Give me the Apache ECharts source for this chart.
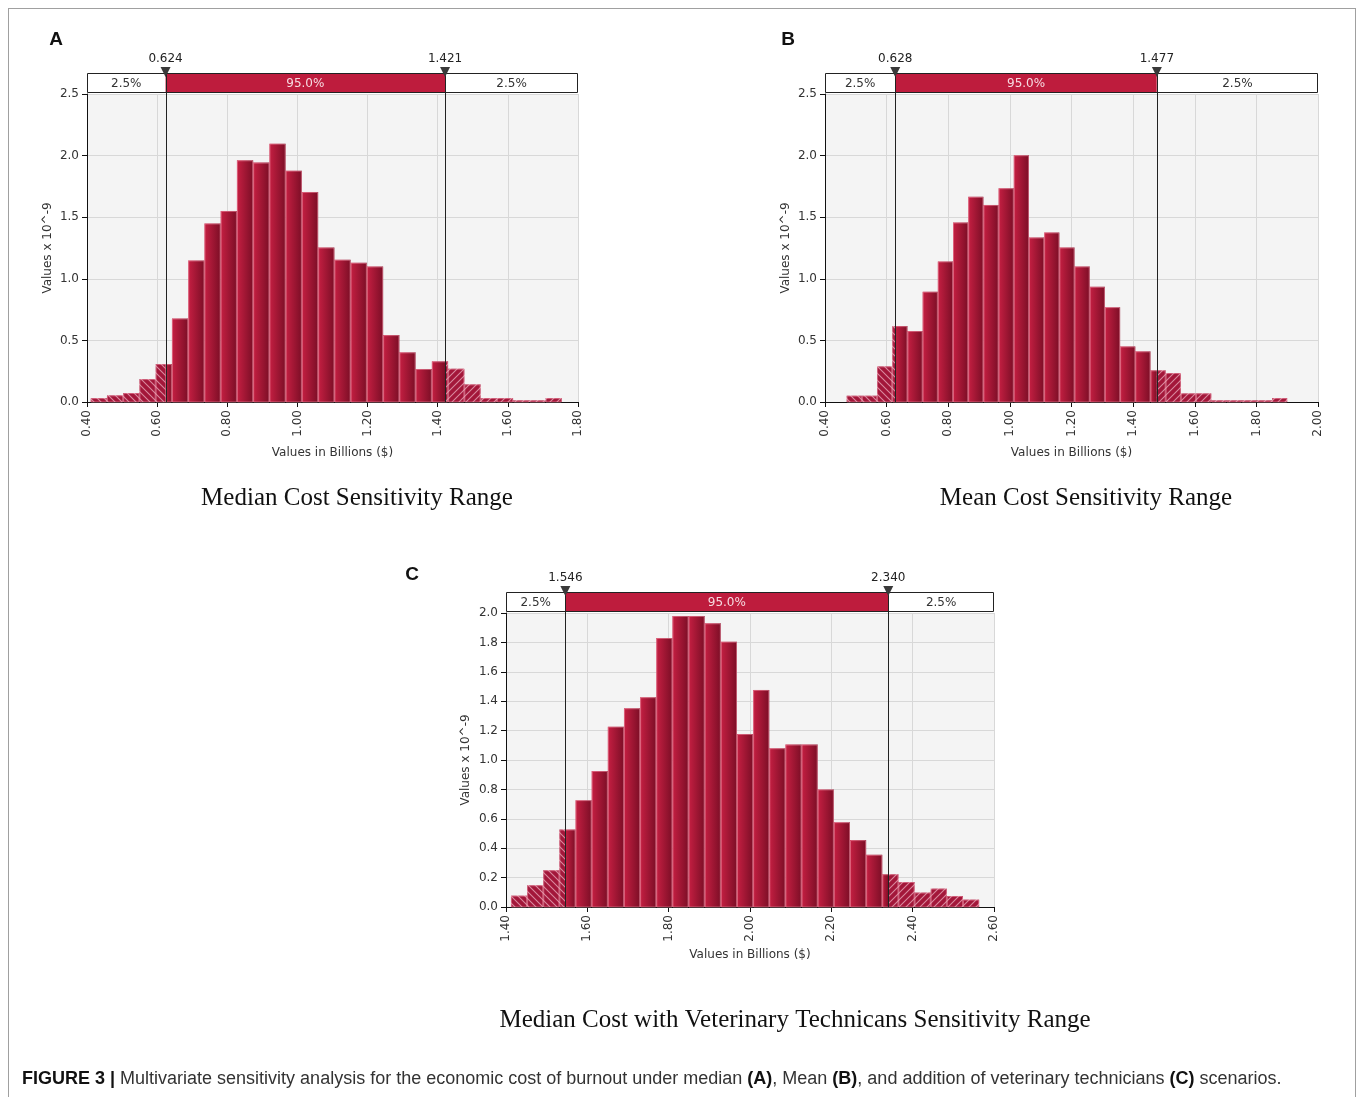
<!DOCTYPE html>
<html><head><meta charset="utf-8">
<script src="https://cdn.jsdelivr.net/npm/echarts@6/dist/echarts.min.js"></script>
<style>
html,body{margin:0;padding:0;background:#fff;}
#frame{position:absolute;left:8px;top:8px;width:1348px;height:1100px;border:1px solid #a0a0a0;border-bottom:none;box-sizing:border-box;}
#chart{position:absolute;left:0;top:0;width:1358px;height:1097px;}
</style></head><body>
<div id="frame"></div><div id="chart"></div>
<script>
// ---- data ----
const valuesA = [0.032,0.054,0.073,0.186,0.308,0.678,1.149,1.449,1.551,1.962,1.943,2.097,1.878,1.705,1.254,1.154,1.130,1.100,0.543,0.403,0.268,0.330,0.270,0.143,0.032,0.032,0.014,0.014,0.032];
const binStartA = 0.4106, binWidthA = 0.04632;
const percentilesA = [0.624, 1.421];
const bandPctA = ['2.5%', '95.0%', '2.5%'];
const xRangeA = [0.40, 1.80], yRangeA = [0, 2.5];

const valuesB = [0.051,0.051,0.289,0.616,0.576,0.895,1.141,1.457,1.665,1.600,1.735,2.003,1.335,1.376,1.254,1.100,0.935,0.770,0.451,0.411,0.257,0.235,0.070,0.070,0.014,0.014,0.014,0.014,0.032];
const binStartB = 0.4704, binWidthB = 0.0493;
const percentilesB = [0.628, 1.477];
const bandPctB = ['2.5%', '95.0%', '2.5%'];
const xRangeB = [0.40, 2.00], yRangeB = [0, 2.5];

const valuesC = [0.077,0.148,0.250,0.527,0.727,0.925,1.227,1.352,1.427,1.830,1.980,1.980,1.930,1.805,1.177,1.477,1.080,1.105,1.105,0.800,0.577,0.455,0.355,0.223,0.170,0.098,0.125,0.075,0.050];
const binStartC = 1.4122, binWidthC = 0.0397;
const percentilesC = [1.546, 2.340];
const bandPctC = ['2.5%', '95.0%', '2.5%'];
const xRangeC = [1.40, 2.60], yRangeC = [0, 2.0];

const xTickStep = 0.2;
const yTickStepAB = 0.5, yTickStepC = 0.2;
const yAxisName = 'Values x 10^-9';
const xAxisName = 'Values in Billions ($)';
const subtitles = ['Median Cost Sensitivity Range', 'Mean Cost Sensitivity Range', 'Median Cost with Veterinary Technicans Sensitivity Range'];
const panelLetters = ['A', 'B', 'C'];

// ---- styling helpers ----
const SANS = '"DejaVu Sans", Verdana, sans-serif';
function makePattern(dir) {
  const s = 7, c = document.createElement('canvas');
  c.width = s; c.height = s;
  const g = c.getContext('2d');
  g.fillStyle = '#a3173a'; g.fillRect(0, 0, s, s);
  g.strokeStyle = 'rgba(255,215,225,0.6)'; g.lineWidth = 1.1;
  g.beginPath();
  if (dir === 'L') {
    g.moveTo(0, 0); g.lineTo(s, s);
    g.moveTo(-1, s - 1); g.lineTo(1, s + 1);
    g.moveTo(s - 1, -1); g.lineTo(s + 1, 1);
  } else {
    g.moveTo(0, s); g.lineTo(s, 0);
    g.moveTo(-1, 1); g.lineTo(1, -1);
    g.moveTo(s - 1, s + 1); g.lineTo(s + 1, s - 1);
  }
  g.stroke();
  return { image: c, repeat: 'repeat' };
}
const patL = makePattern('L'), patR = makePattern('R');
function grad() {
  return new echarts.graphic.LinearGradient(0, 0, 1, 0, [
    { offset: 0, color: '#c51f42' }, { offset: 1, color: '#7c0e26' }]);
}

function barRender(lo, hi, width) {
  return function (params, api) {
    const x0 = api.value(0), v = api.value(1), x1 = x0 + width;
    const children = [];
    const segs = [[x0, Math.min(x1, lo), 'L'], [Math.max(x0, lo), Math.min(x1, hi), 'M'], [Math.max(x0, hi), x1, 'R']];
    segs.forEach(function (sg) {
      if (sg[1] <= sg[0]) return;
      const pa = api.coord([sg[0], v]), pb = api.coord([sg[1], 0]);
      children.push({ type: 'rect', shape: { x: pa[0], y: pa[1], width: pb[0] - pa[0], height: pb[1] - pa[1] },
        style: { fill: sg[2] === 'M' ? grad() : (sg[2] === 'L' ? patL : patR) } });
    });
    const p0 = api.coord([x0, 0]), p1 = api.coord([x1, v]);
    children.push({ type: 'rect', shape: { x: p0[0] + 0.5, y: p1[1] + 0.5, width: p1[0] - p0[0] - 1, height: p0[1] - p1[1] - 0.5 },
      style: { fill: 'none', stroke: 'rgba(240,150,170,0.55)', lineWidth: 1 } });
    return { type: 'group', children: children };
  };
}

function bandRender(xr, yr, labels) {
  return function (params, api) {
    const lo = api.value(0), hi = api.value(1);
    const pL = api.coord([xr[0], yr[1]]), pR = api.coord([xr[1], yr[1]]);
    const xlo = api.coord([lo, yr[1]])[0], xhi = api.coord([hi, yr[1]])[0];
    const base = api.coord([lo, yr[0]])[1];
    const top = pL[1] - 21, h = 19;
    const txt = function (x, y, t, color, size) {
      return { type: 'text', style: { x: x, y: y, text: t, fill: color, font: size + 'px ' + SANS, align: 'center', verticalAlign: 'middle' } };
    };
    const tri = function (x) {
      return { type: 'polygon', shape: { points: [[x - 5, top - 6], [x + 5, top - 6], [x, top + 4]] }, style: { fill: '#3a3a3a' } };
    };
    return { type: 'group', children: [
      { type: 'rect', shape: { x: pL[0], y: top, width: xlo - pL[0], height: h }, style: { fill: '#fff' } },
      { type: 'rect', shape: { x: xlo, y: top, width: xhi - xlo, height: h }, style: { fill: '#be1c3d' } },
      { type: 'rect', shape: { x: xhi, y: top, width: pR[0] - xhi, height: h }, style: { fill: '#fff' } },
      { type: 'rect', shape: { x: pL[0] + 0.5, y: top + 0.5, width: pR[0] - pL[0] - 1, height: h }, style: { fill: 'none', stroke: '#222', lineWidth: 1 } },
      txt((pL[0] + xlo) / 2, top + h / 2 + 1, labels[0], '#333', 12),
      txt((xlo + xhi) / 2, top + h / 2 + 1, labels[1], '#f6dbe1', 12),
      txt((xhi + pR[0]) / 2, top + h / 2 + 1, labels[2], '#333', 12),
      { type: 'line', shape: { x1: Math.round(xlo) + 0.5, y1: top, x2: Math.round(xlo) + 0.5, y2: base }, style: { stroke: '#222', lineWidth: 1 } },
      { type: 'line', shape: { x1: Math.round(xhi) + 0.5, y1: top, x2: Math.round(xhi) + 0.5, y2: base }, style: { stroke: '#222', lineWidth: 1 } },
      tri(xlo), tri(xhi),
      txt(xlo, top - 14, lo.toFixed(3), '#222', 12),
      txt(xhi, top - 14, hi.toFixed(3), '#222', 12)
    ] };
  };
}

const panels = [
  { vals: valuesA, start: binStartA, w: binWidthA, pct: percentilesA, band: bandPctA, xr: xRangeA, yr: yRangeA, yStep: yTickStepAB,
    grid: { left: 87, top: 94, width: 491, height: 308 }, yGap: 33, xGap: 45 },
  { vals: valuesB, start: binStartB, w: binWidthB, pct: percentilesB, band: bandPctB, xr: xRangeB, yr: yRangeB, yStep: yTickStepAB,
    grid: { left: 825, top: 94, width: 493, height: 308 }, yGap: 33, xGap: 45 },
  { vals: valuesC, start: binStartC, w: binWidthC, pct: percentilesC, band: bandPctC, xr: xRangeC, yr: yRangeC, yStep: yTickStepC,
    grid: { left: 506, top: 613, width: 488, height: 294 }, yGap: 34, xGap: 42 }
];

const option = { animation: false, backgroundColor: 'transparent', grid: [], xAxis: [], yAxis: [], series: [], graphic: [] };
panels.forEach(function (p, i) {
  option.grid.push(Object.assign({ show: true, backgroundColor: '#f4f4f4', borderWidth: 0, containLabel: false }, p.grid));
  option.xAxis.push({ type: 'value', gridIndex: i, min: p.xr[0], max: p.xr[1], interval: xTickStep,
    name: xAxisName, nameLocation: 'middle', nameGap: p.xGap,
    nameTextStyle: { fontFamily: SANS, fontSize: 12, color: '#333' },
    axisLine: { show: true, lineStyle: { color: '#111', width: 1 } },
    axisTick: { show: true, length: 5, lineStyle: { color: '#111' } },
    axisLabel: { rotate: 90, margin: 8, fontFamily: SANS, fontSize: 12, color: '#333', formatter: function (v) { return v.toFixed(2); } },
    splitLine: { show: true, lineStyle: { color: '#d8d8d8', width: 1 } } });
  option.yAxis.push({ type: 'value', gridIndex: i, min: p.yr[0], max: p.yr[1], interval: p.yStep,
    name: yAxisName, nameLocation: 'middle', nameGap: p.yGap, nameRotate: 90,
    nameTextStyle: { fontFamily: SANS, fontSize: 12, color: '#333' },
    axisLine: { show: true, lineStyle: { color: '#111', width: 1 } },
    axisTick: { show: true, length: 5, lineStyle: { color: '#111' } },
    axisLabel: { margin: 8, fontFamily: SANS, fontSize: 12, color: '#333', formatter: function (v) { return v.toFixed(1); } },
    splitLine: { show: true, lineStyle: { color: '#d8d8d8', width: 1 } } });
  option.series.push({ type: 'custom', xAxisIndex: i, yAxisIndex: i, silent: true,
    renderItem: barRender(p.pct[0], p.pct[1], p.w),
    data: p.vals.map(function (v, k) { return [p.start + k * p.w, v]; }) });
  option.series.push({ type: 'custom', xAxisIndex: i, yAxisIndex: i, silent: true, z: 5,
    renderItem: bandRender(p.xr, p.yr, p.band), data: [[p.pct[0], p.pct[1]]] });
});

const titlePos = [[357, 498], [1086, 498], [795, 1020]];
const letterPos = [[56, 40], [788, 40], [412, 575]];
subtitles.forEach(function (t, i) {
  option.graphic.push({ type: 'text', silent: true, style: { x: titlePos[i][0], y: titlePos[i][1], text: t, fill: '#111',
    font: '25px "Liberation Serif", "Times New Roman", serif', align: 'center', verticalAlign: 'middle' } });
  option.graphic.push({ type: 'text', silent: true, style: { x: letterPos[i][0], y: letterPos[i][1], text: panelLetters[i], fill: '#111',
    font: 'bold 19px "Liberation Sans", Arial, sans-serif', align: 'center', verticalAlign: 'middle' } });
});
option.graphic.push({ type: 'text', silent: true, style: { x: 22, y: 1079,
  text: '{b|FIGURE 3 |} Multivariate sensitivity analysis for the economic cost of burnout under median {b|(A)}, Mean {b|(B)}, and addition of veterinary technicians {b|(C)} scenarios.',
  fill: '#333', font: '18px "Liberation Sans", Arial, sans-serif', verticalAlign: 'middle',
  rich: { b: { fontWeight: 'bold', fill: '#111', fontSize: 18, fontFamily: '"Liberation Sans", Arial, sans-serif' } } } });

const chart = echarts.init(document.getElementById('chart'), null, { renderer: 'canvas' });
chart.setOption(option);
</script>
</body></html>
